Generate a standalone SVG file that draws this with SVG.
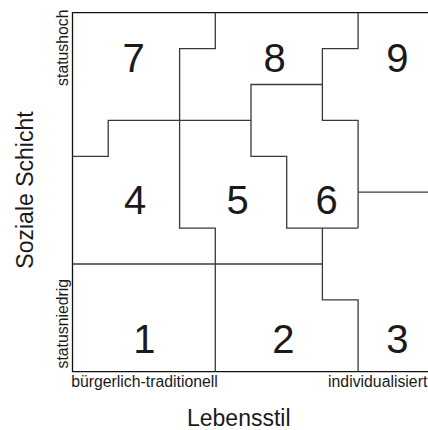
<svg xmlns="http://www.w3.org/2000/svg" width="428" height="430" viewBox="0 0 428 430">
  <style>
    .frame { fill: none; stroke: #111; stroke-width: 1.3; }
    .border { fill: none; stroke: #3a3a3a; stroke-width: 1.3; stroke-linejoin: miter; }
    .num { font-family: "Liberation Sans", Arial, sans-serif; font-size: 40px; fill: #1a1a1a; text-anchor: middle; }
    .tick { font-family: "Liberation Sans", Arial, sans-serif; font-size: 15.8px; fill: #1a1a1a; }
    .axis { font-family: "Liberation Sans", Arial, sans-serif; font-size: 23px; fill: #1a1a1a; text-anchor: middle; }
  </style>

  <rect width="428" height="430" fill="#ffffff"/>

  <!-- outer frame: left, top and bottom edges -->
  <g id="frame">
    <path class="frame" d="M429.5,12.7 H72.5 V371.7 H429.5"/>
  </g>

  <!-- boundaries between the nine milieu fields -->
  <g id="boundaries">
    <path class="border" d="M215.3,12.7 V48.6 H179.6 V228.1 H215.3 V371.7"/>
    <path class="border" d="M72.5,156.3 H108.2 V120.4 H251"/>
    <path class="border" d="M322.4,84.5 H251 V156.3 H286.7 V228.1 H358.1"/>
    <path class="border" d="M358.1,12.7 V48.6 H322.4 V120.4 H358.1 V228.1"/>
    <path class="border" d="M358.1,192.2 H429.5"/>
    <path class="border" d="M72.5,264 H322.4"/>
    <path class="border" d="M322.4,228.1 V299.9 H358.1 V371.7"/>
  </g>

  <!-- field numbers -->
  <g id="field-7"><text class="num" x="133.7" y="71.7">7</text></g>
  <g id="field-8"><text class="num" x="274.7" y="71.7">8</text></g>
  <g id="field-9"><text class="num" x="397.3" y="71.7">9</text></g>
  <g id="field-4"><text class="num" x="135" y="214">4</text></g>
  <g id="field-5"><text class="num" x="237.5" y="214">5</text></g>
  <g id="field-6"><text class="num" x="326.7" y="213.5">6</text></g>
  <g id="field-1"><text class="num" x="144.3" y="353.3">1</text></g>
  <g id="field-2"><text class="num" x="283.3" y="353.3">2</text></g>
  <g id="field-3"><text class="num" x="397.3" y="353.3">3</text></g>

  <!-- axis scale labels -->
  <g id="y-scale">
    <text class="tick" text-anchor="middle" transform="translate(67.5,47.7) rotate(-90)">statushoch</text>
    <text class="tick" text-anchor="middle" transform="translate(67.5,323.7) rotate(-90)">statusniedrig</text>
  </g>
  <g id="x-scale">
    <text class="tick" text-anchor="middle" x="144.5" y="386.7">bürgerlich-traditionell</text>
    <text class="tick" text-anchor="middle" x="377.7" y="386.7">individualisiert</text>
  </g>

  <!-- axis titles -->
  <g id="y-title">
    <text class="axis" transform="translate(33,190) rotate(-90)">Soziale Schicht</text>
  </g>
  <g id="x-title">
    <text class="axis" x="238.8" y="426">Lebensstil</text>
  </g>
</svg>
